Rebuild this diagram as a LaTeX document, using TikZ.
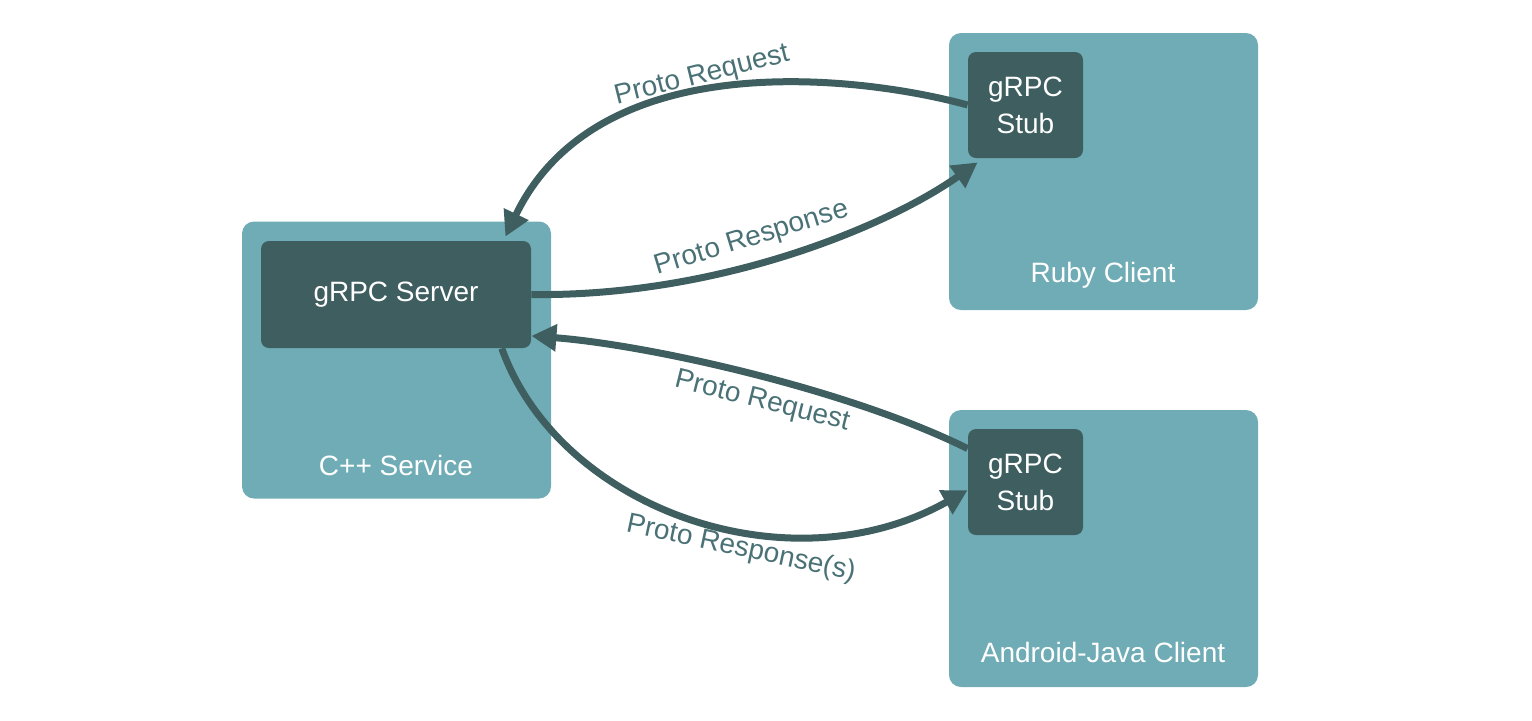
\documentclass[tikz,border=0pt]{standalone}
\usepackage{fontspec}
\setmainfont{Liberation Sans}
\usetikzlibrary{arrows.meta,calc}
\definecolor{lightteal}{HTML}{6FACB5}
\definecolor{darkteal}{HTML}{3E5E60}
\definecolor{labelteal}{HTML}{4A7276}
\tikzset{
  outerbox/.style={fill=lightteal, rounded corners=6pt, inner sep=0pt, minimum width=154.5pt, minimum height=138.5pt},
  innerbox/.style={fill=darkteal, rounded corners=4pt, inner sep=0pt, text=white, font=\fontsize{14}{18.5}\selectfont, align=center},
  boxtext/.style={text=white, font=\fontsize{14}{16}\selectfont, inner sep=0pt},
  flow/.style={draw=darkteal, line width=3.5pt, -{Triangle[length=12.5pt,width=13pt]}},
  flowlabel/.style={text=labelteal, font=\fontsize{14}{16}\selectfont, inner sep=0pt},
}
\begin{document}
\begin{tikzpicture}[x=0.5pt,y=-0.5pt]
\useasboundingbox (0,0) rectangle (1532,720);
% outer boxes
\node[outerbox] (cpp) at (396.5,360) {};
\node[outerbox] (ruby) at (1103.5,171.5) {};
\node[outerbox] (android) at (1103.5,548.5) {};
% inner boxes
\node[innerbox, minimum width=135pt, minimum height=53.5pt] (server) at (396,294.5) {gRPC Server};
\node[innerbox, minimum width=57.5pt, minimum height=53pt] (stub1) at (1025.5,105) {gRPC\\Stub};
\node[innerbox, minimum width=57.5pt, minimum height=53pt] (stub2) at (1025.5,482) {gRPC\\Stub};
% box labels
\node[boxtext] (cpplbl) at (396,465) {C++ Service};
\node[boxtext] (rubylbl) at (1103,275) {Ruby Client};
\node[boxtext] (androidlbl) at (1103,652) {Android-Java Client};
% connector end points
\coordinate (reqtip) at ($(server.north east)+(-26,-4)$);
\coordinate (resptip) at ($(stub1.south west)+(10,4)$);
% connectors
\draw[flow] (stub1.west) .. controls (870,78) and (600,40) .. (reqtip);
\draw[flow] (server.east) .. controls (720,297) and (890,225) .. (resptip);
\draw[flow] (stub2.150) .. controls (850,390) and (650,345) .. (server.-17.5);
\draw[flow] (server.-27.2) .. controls (560,510) and (790,590) .. (stub2.188);
% connector labels
\node[flowlabel, rotate=14] (l1) at (702,76) {Proto Request};
\node[flowlabel, rotate=17] (l2) at (752,239) {Proto Response};
\node[flowlabel, rotate=-14] (l3) at (762,402) {Proto Request};
\node[flowlabel, rotate=-12] (l4) at (741,549) {Proto Response(s)};
\end{tikzpicture}
\end{document}
